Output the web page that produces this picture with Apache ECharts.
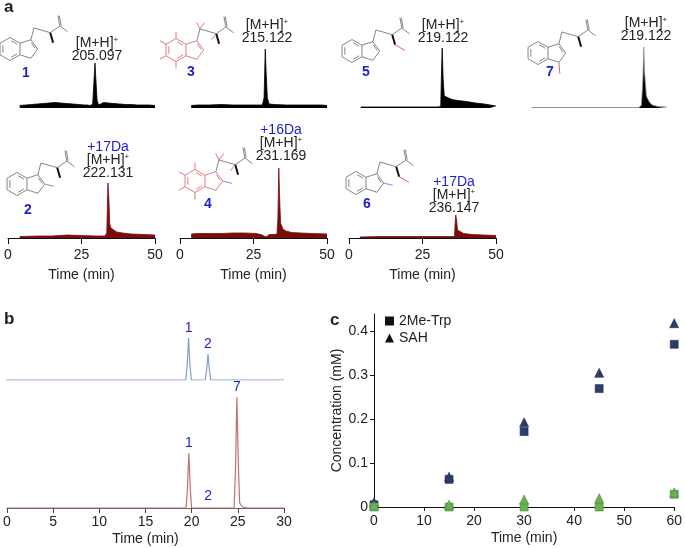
<!DOCTYPE html>
<html>
<head>
<meta charset="utf-8">
<script src="https://cdn.jsdelivr.net/npm/echarts@6/dist/echarts.min.js"></script>
<style>
  html, body { margin: 0; padding: 0; background: #fff; }
  #main { width: 685px; height: 548px; }
</style>
</head>
<body>
<div id="main"></div>
<script>
// panel a: extracted ion chromatograms, [time (min), intensity]
var ms1 = [[4,2.5],[6,3],[8,3.5],[10,4],[12,4.5],[14,5],[16,5.5],[18,5],[20,4.5],[22,4],[24,3.5],[26,3],[27,3],[28,2.5],[28.8,4],[29.3,30],[29.6,45],[29.9,28],[30.3,8],[30.8,3],[31.5,4],[32.5,5.5],[34,5],[36,4.5],[38,4],[40,3.5],[42,3.5],[44,3],[46,3],[48,3],[50,2.5]];
var ms3 = [[3.8,2.5],[6,3],[10,3],[14,3.5],[18,3],[22,3],[26,3],[28,3],[28.6,10],[29,59],[29.3,35],[29.7,10],[30.3,4],[32,3.5],[36,3],[40,3],[44,3],[48,3],[50,2.5]];
var ms5 = [[4,1],[10,1],[20,1],[30,1],[31.2,1.5],[31.5,40],[31.7,60],[32,30],[32.4,12],[33,10],[35,8.5],[37,7.5],[40,6.5],[43,5],[46,4],[48,3],[50,2]];
var ms7 = [[4,0.5],[40.5,0.5],[41.3,3],[41.8,30],[42.1,61],[42.4,35],[43,12],[44,6],[45,3],[47,1.5],[50,1]];
var ms2 = [[4,1.5],[10,2],[15,2],[20,3],[25,2.5],[30,2],[33,2],[33.6,5],[34,55],[34.3,40],[34.6,14],[35,10],[36,8],[37,6],[39,5],[42,4],[46,3.5],[50,3]];
var ms4 = [[3.8,4],[6,4.5],[10,4.5],[14,4.5],[18,5],[22,5],[26,4.5],[28,3],[28.8,1.5],[29.6,1.5],[30.3,3.5],[32,3.5],[33,4],[33.3,20],[33.6,70],[33.9,40],[34.2,15],[35,9],[36,7],[38,5.5],[41,5],[45,4.5],[50,4]];
var ms6 = [[3.7,1],[10,1.5],[20,1.5],[30,1.5],[35.9,1.5],[36.1,15],[36.3,23],[36.6,18],[36.9,8],[37.5,6],[39,4.5],[42,3.5],[46,3],[50,2.5]];
var msLabels = ['1', '3', '5', '7', '2', '4', '6'];
var msMass = ['205.097', '215.122', '219.122', '219.122', '222.131', '231.169', '236.147'];
var msShift = ['', '', '', '', '+17Da', '+16Da', '+17Da'];

// panel b: HPLC traces, [time (min), absorbance]
var hplcStd = [[0,0],[15.3,0],[15.5,0.8],[15.7,0],[19.4,0],[19.55,15],[19.7,42],[19.85,15],[20,0],[21.5,0],[21.65,10],[21.8,26],[21.95,10],[22.1,0],[29,0],[29.2,0.8],[29.4,0],[30,0]];
var hplcRxn = [[0,0],[15.3,0],[15.5,0.6],[15.7,0],[19.4,0],[19.55,20],[19.7,55],[19.85,20],[20,0],[21.7,0],[21.8,1.5],[21.9,0],[24.6,0],[24.75,40],[24.9,111],[25.05,45],[25.2,5],[25.5,1],[26,0],[30,0]];
var stdPeaks = [[19.7,42,'1'],[21.8,26,'2']];
var rxnPeaks = [[19.7,55,'1'],[21.8,1.5,'2'],[24.9,111,'7']];

// panel c: time course (mM)
var times = [0, 15, 30, 45, 60];
var meTrp = [0.005, 0.063, 0.172, 0.270, 0.371];
var sah = [0.011, 0.069, 0.193, 0.306, 0.419];
var meTrpCtrl = [0, 0, 0, 0, 0.029];
var sahCtrl = [0.003, 0.005, 0.017, 0.020, 0.033];

var FONT = 'Liberation Sans, Arial, sans-serif';
var BLUE = '#1f1fcc';
var DARKRED = '#7a0c0c';

var msSeries = [ms1, ms3, ms5, ms7, ms2, ms4, ms6];
var msBox = [[8,38],[180,38],[349,38],[520,38],[8,168],[180,168],[349,168]];
var msWidth = 147, msHeight = 70;

var grid = [], xAxis = [], yAxis = [], series = [];

msSeries.forEach(function (d, i) {
  var bottomRow = i >= 4;
  grid.push({ left: msBox[i][0], top: msBox[i][1], width: msWidth, height: msHeight });
  xAxis.push({
    gridIndex: i, type: 'value', min: 0, max: 50, interval: 25,
    show: bottomRow,
    axisLine: { lineStyle: { color: '#111', width: 1 } },
    axisTick: { length: 6, lineStyle: { color: '#111' } },
    axisLabel: { fontSize: 14, color: '#222', margin: 10, fontFamily: FONT },
    splitLine: { show: false },
    name: 'Time (min)', nameLocation: 'middle', nameGap: 30,
    nameTextStyle: { fontSize: 14, color: '#222', fontFamily: FONT }
  });
  yAxis.push({ gridIndex: i, type: 'value', min: 0, max: 70, show: false });
  var col = bottomRow ? DARKRED : '#000';
  series.push({
    type: 'line', xAxisIndex: i, yAxisIndex: i, data: d,
    showSymbol: false, animation: false,
    lineStyle: { width: 0.8, color: i === 3 ? '#999' : col },
    areaStyle: { color: col, opacity: 1 }
  });
});

// panel b grids
grid.push({ left: 6, top: 330, width: 278, height: 50 });
grid.push({ left: 6, top: 390, width: 278, height: 118 });
xAxis.push({ gridIndex: 7, type: 'value', min: 0, max: 30, show: false });
xAxis.push({
  gridIndex: 8, type: 'value', min: 0, max: 30, interval: 5,
  axisLine: { lineStyle: { color: '#666' } },
  axisTick: { length: 5, lineStyle: { color: '#444' } },
  axisLabel: { fontSize: 14, color: '#222', margin: 7, fontFamily: FONT },
  splitLine: { show: false },
  name: 'Time (min)', nameLocation: 'middle', nameGap: 24,
  nameTextStyle: { fontSize: 14, color: '#222', fontFamily: FONT }
});
yAxis.push({ gridIndex: 7, type: 'value', min: 0, max: 50, show: false });
yAxis.push({ gridIndex: 8, type: 'value', min: 0, max: 118, show: false });

series.push({ type: 'line', xAxisIndex: 7, yAxisIndex: 7, data: hplcStd, showSymbol: false, animation: false,
  lineStyle: { width: 1.2, color: '#7f9fcc' } });
series.push({ type: 'line', xAxisIndex: 8, yAxisIndex: 8, data: hplcRxn, showSymbol: false, animation: false,
  lineStyle: { width: 1.2, color: '#c2716f' } });
[[7, stdPeaks], [8, rxnPeaks]].forEach(function (p) {
  series.push({
    type: 'scatter', xAxisIndex: p[0], yAxisIndex: p[0], symbolSize: 0, animation: false, silent: true,
    itemStyle: { color: BLUE, opacity: 1 },
    data: p[1].map(function (q) { return { value: [q[0], q[1]], name: q[2] }; }),
    label: { show: true, position: 'top', distance: 3, formatter: '{b}', color: BLUE, opacity: 1,
      fontSize: 14, fontFamily: FONT }
  });
});

// panel c grid
grid.push({ left: 374, top: 314, width: 303, height: 193 });
xAxis.push({
  gridIndex: 9, type: 'value', min: 0, max: 60, interval: 10,
  axisLine: { lineStyle: { color: '#111' } },
  axisTick: { length: 4, lineStyle: { color: '#111' } },
  axisLabel: { fontSize: 14, color: '#222', margin: 7, fontFamily: FONT },
  splitLine: { show: false },
  name: 'Time (min)', nameLocation: 'middle', nameGap: 24,
  nameTextStyle: { fontSize: 14, color: '#222', fontFamily: FONT }
});
yAxis.push({
  gridIndex: 9, type: 'value', min: 0, max: 0.44, interval: 0.1,
  axisLine: { show: true, lineStyle: { color: '#111' } },
  axisTick: { show: true, length: 4, lineStyle: { color: '#111' } },
  axisLabel: { fontSize: 14, color: '#222', margin: 6, showMaxLabel: false, fontFamily: FONT,
    formatter: function (v) { return v === 0 ? '0' : v.toFixed(1); } },
  splitLine: { show: false },
  name: 'Concentration (mM)', nameLocation: 'middle', nameGap: 30, nameRotate: 90,
  nameTextStyle: { fontSize: 14, color: '#222', fontFamily: FONT }
});

function pts(ys) { return times.map(function (t, k) { return [t, ys[k]]; }); }
var NAVY = '#2d3c6a', GREEN = '#6bb156';
[['2Me-Trp', meTrp, 'rect', NAVY, 8],
 ['SAH', sah, 'triangle', NAVY, 9],
 ['2Me-Trp control', meTrpCtrl, 'rect', GREEN, 8],
 ['SAH control', sahCtrl, 'triangle', GREEN, 9]].forEach(function (s) {
  series.push({
    name: s[0], type: 'scatter', xAxisIndex: 9, yAxisIndex: 9, data: pts(s[1]),
    symbol: s[2], symbolSize: s[4], animation: false,
    itemStyle: { color: s[3], borderColor: s[3] === GREEN ? '#4e8c3e' : '#22305a', borderWidth: 0.6, opacity: 1 }
  });
});

// chemical structure sketches (decoration only)
function indole(cx, cy, o) {
  var r = 11.5, els = [];
  function P(a, b) { return [cx + a * r, cy + b * r]; }
  function line(p, color, w) {
    els.push({ type: 'polyline', silent: true, shape: { points: p },
      style: { stroke: color || '#777', lineWidth: w || 0.9, fill: null } });
  }
  var ring = o.ringColor || '#777';
  line([P(0,-1),P(0.866,-0.5),P(0.866,0.5),P(0,1),P(-0.866,0.5),P(-0.866,-0.5),P(0,-1)], ring);
  line([P(-0.62,-0.33),P(-0.62,0.33)], ring);
  line([P(0.1,-0.72),P(0.62,-0.42)], ring);
  line([P(0.1,0.72),P(0.62,0.42)], ring);
  line([P(0.866,-0.5),P(1.817,-0.809),P(2.405,0),P(1.817,0.809),P(0.866,0.5)], ring);
  line([P(1.85,-0.55),P(2.2,-0.05)], ring);
  line([P(1.817,-0.809),P(2.08,-1.83),P(3.5,-1.42),P(4.33,-2.0),P(5.0,-1.5)]);
  line([P(4.33,-2.0),P(4.17,-2.9)]);
  line([P(4.45,-2.02),P(4.29,-2.9)]);
  line([P(3.5,-1.42),P(3.75,-0.55)], '#111', 2);
  if (o.c2) line([P(2.405,0),P(3.2,0.2)], '#7a7ae0');
  if (o.nme) line([P(3.75,-0.55),P(4.6,-0.05)], '#e05050');
  if (o.n1) line([P(1.817,0.809),P(1.9,1.8)], '#e05050');
  if (o.d) {
    [[0,-1,0,-1.6],[-0.866,-0.5,-1.4,-0.8],[-0.866,0.5,-1.4,0.8],[0,1,0,1.6],
     [2.08,-1.83,1.8,-2.4],[2.08,-1.83,2.5,-2.4],[3.5,-1.42,3.1,-0.9]].forEach(function (q) {
      line([P(q[0],q[1]),P(q[2],q[3])], '#e05050', 0.8);
    });
  }
  return els;
}

var graphic = [];
function txt(x, y, s, o) {
  o = o || {};
  graphic.push({ type: 'text', x: x, y: y, silent: true, style: {
    text: s, fontSize: o.size || 14, fontWeight: o.bold ? 'bold' : 'normal', fill: o.color || '#222',
    fontFamily: FONT, align: o.align || 'center', verticalAlign: 'middle', rich: o.rich } });
}
var supRich = { s: { fontSize: 8, verticalAlign: 'top', padding: [0, 0, 7, 0], fill: '#222' } };

var structPos = [[10,49],[176,50],[352,51],[538,53],[17,184],[195,181],[356,183]];
var structOpt = [{}, { ringColor: '#e07070', d: true }, { nme: true }, { n1: true },
                 { c2: true }, { ringColor: '#e07070', d: true, c2: true }, { c2: true, nme: true }];
structPos.forEach(function (p, i) { graphic = graphic.concat(indole(p[0], p[1], structOpt[i])); });

var numPos = [[26,73],[191,72],[366,72],[550,72],[28,210],[208,204],[367,204]];
msLabels.forEach(function (s, i) { txt(numPos[i][0], numPos[i][1], s, { color: BLUE, bold: true, size: 14 }); });

var annPos = [[97,43],[267,25],[443,25],[646,23],[108,160],[281,143],[454,195]];
msMass.forEach(function (m, i) {
  var p = annPos[i];
  txt(p[0], p[1], '[M+H]{s|+}', { rich: supRich });
  txt(p[0], p[1] + 13, m);
  if (msShift[i]) txt(p[0], p[1] - 13, msShift[i], { color: BLUE });
});

txt(4, 7, 'a', { bold: true, size: 17, align: 'left' });
txt(4, 319, 'b', { bold: true, size: 17, align: 'left' });
txt(330, 320, 'c', { bold: true, size: 17, align: 'left' });

var option = {
  backgroundColor: '#fff',
  animation: false,
  grid: grid,
  xAxis: xAxis,
  yAxis: yAxis,
  legend: {
    orient: 'vertical', left: 380, top: 309, itemGap: 3, itemWidth: 9, itemHeight: 9,
    textStyle: { fontSize: 14, color: '#222', fontFamily: FONT },
    selectedMode: false,
    data: [
      { name: '2Me-Trp', icon: 'rect', itemStyle: { color: '#111', borderWidth: 0 } },
      { name: 'SAH', icon: 'triangle', itemStyle: { color: '#111', borderWidth: 0 } }
    ]
  },
  graphic: graphic,
  series: series
};

var chart = echarts.init(document.getElementById('main'));
chart.setOption(option);
</script>
</body>
</html>
